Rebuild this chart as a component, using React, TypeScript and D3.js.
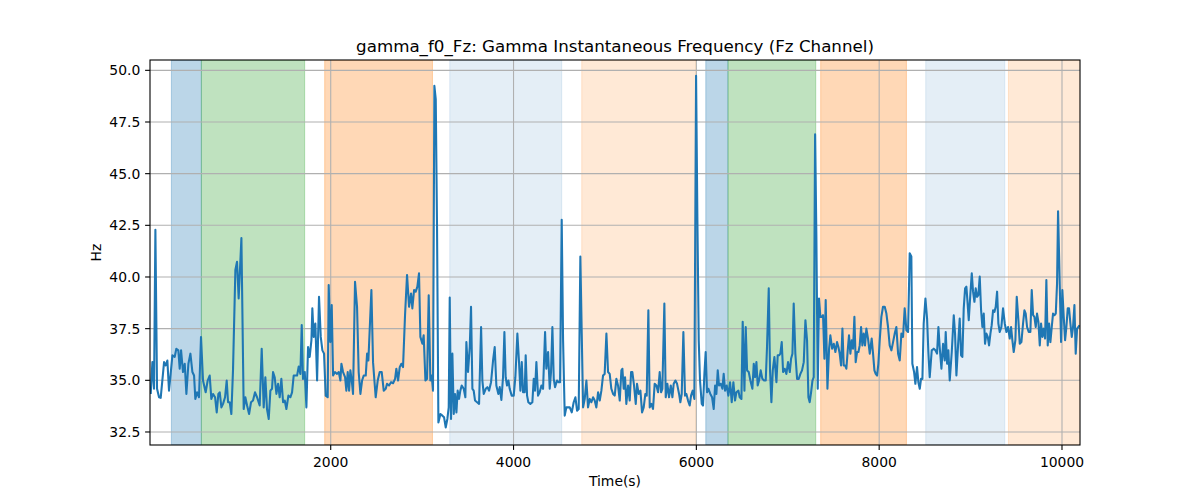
import { useMemo } from "react";
import * as d3 from "d3";

type Pt = [number, number];

// Fz gamma instantaneous frequency, [time (s), Hz]
const seg1: Pt[] = [
    [31, 34.34], [49, 35.88], [67, 34.59], [82, 42.28], [100, 34.59], [122, 34.18], [140, 34.15], [158, 34.99],
    [177, 35.88], [195, 35.72], [213, 35.96], [231, 34.5], [249, 35.31], [268, 36.21], [293, 36.13], [311, 36.53],
    [333, 36.45], [348, 35.56], [363, 36.45], [384, 35.4], [403, 35.8], [421, 34.34], [443, 35.8], [465, 36.29],
    [487, 35.4], [505, 35.23], [519, 34.1], [538, 34.42], [559, 34.18], [581, 37.1], [603, 34.99], [632, 34.42],
    [654, 34.99], [676, 35.23], [694, 34.1], [713, 34.34], [735, 34.18], [753, 33.45], [771, 34.34], [786, 34.42],
    [804, 33.69], [822, 33.86], [844, 34.18], [862, 34.99], [877, 33.94], [895, 33.94], [913, 33.37], [931, 35.48],
    [957, 40.34], [975, 40.74], [993, 38.96], [1023, 41.88], [1048, 33.61], [1066, 34.18], [1085, 33.78], [1107, 33.37],
    [1128, 33.94], [1150, 34.02], [1172, 34.42], [1194, 34.18], [1223, 33.78], [1245, 36.53], [1267, 33.69], [1285, 35.15],
    [1303, 33.61], [1322, 33.13], [1340, 34.5], [1358, 34.59], [1369, 35.4], [1387, 35.15], [1406, 34.34], [1424, 34.83],
    [1442, 34.18], [1460, 35.07], [1479, 33.94], [1497, 34.02], [1515, 33.61], [1537, 34.26], [1559, 34.18], [1577, 34.42],
    [1595, 35.23], [1613, 35.23], [1632, 35.23], [1650, 35.67], [1668, 35.31], [1683, 37.67], [1697, 35.07], [1716, 35.4],
    [1734, 33.69], [1752, 36.61], [1770, 36.13], [1789, 36.94], [1799, 38.48], [1814, 37.1], [1832, 37.75], [1851, 34.99],
    [1872, 39.04], [1891, 37.1], [1909, 36.45], [1927, 36.29], [1945, 34.26], [1967, 34.18], [1978, 39.61], [1996, 36.85],
    [2011, 38.64], [2026, 35.23], [2047, 35.4], [2069, 35.31], [2088, 35.4], [2106, 34.99], [2117, 35.8], [2135, 35.4],
    [2157, 35.15], [2171, 34.5], [2186, 35.4], [2201, 34.5], [2215, 35.48], [2230, 34.99], [2244, 34.34], [2266, 39.77],
    [2288, 38.56], [2306, 35.4], [2325, 34.34], [2343, 34.99], [2361, 35.23], [2383, 35.23], [2398, 36.29], [2412, 35.96],
];

const seg2: Pt[] = [
    [2445, 39.37], [2463, 35.88], [2478, 34.99], [2492, 34.18], [2514, 34.99], [2536, 35.4], [2558, 35.4], [2580, 34.5],
    [2602, 34.59], [2616, 34.83], [2638, 34.75], [2660, 34.91], [2682, 34.86], [2704, 35.07], [2718, 35.56], [2737, 34.99],
    [2755, 35.64], [2773, 35.8], [2791, 35.64], [2813, 38.15], [2835, 40.1], [2857, 38.56], [2879, 39.2], [2893, 38.48],
    [2912, 39.37], [2930, 39.29], [2948, 39.53], [2966, 40.18], [2981, 37.1], [3003, 36.77], [3017, 37.18], [3036, 34.99],
    [3054, 35.07], [3072, 39.12], [3090, 34.99], [3105, 35.23], [3119, 34.5], [3134, 49.25], [3149, 48.61], [3163, 42.45],
    [3178, 32.96], [3200, 33.37], [3222, 33.29], [3240, 33.21], [3258, 32.72], [3276, 33.13], [3291, 33.69], [3302, 39.01],
    [3316, 33.13], [3331, 36.29], [3346, 33.37], [3360, 34.34], [3375, 33.45], [3389, 34.5], [3404, 34.1], [3418, 34.5],
    [3433, 34.75], [3455, 34.59], [3473, 34.18], [3484, 36.85], [3502, 35.4], [3521, 36.61], [3535, 38.56], [3550, 34.59],
    [3564, 34.5], [3579, 34.02], [3601, 33.94], [3623, 33.86], [3645, 37.58], [3659, 34.99], [3674, 34.34], [3696, 34.59],
    [3714, 34.67], [3732, 34.5], [3754, 34.91], [3776, 35.96], [3794, 36.61], [3812, 34.75], [3834, 34.34], [3849, 34.67],
    [3867, 34.05], [3885, 35.15], [3900, 37.34], [3914, 35.15], [3929, 34.75], [3944, 34.99], [3958, 34.59], [3980, 34.26],
    [4002, 34.26], [4020, 35.15], [4042, 37.26], [4060, 35.88], [4075, 34.5], [4090, 35.88], [4104, 34.42], [4122, 34.42],
    [4133, 36.21], [4148, 34.26], [4162, 33.94], [4184, 33.86], [4206, 33.94], [4221, 35.07], [4235, 34.5], [4250, 35.88],
    [4268, 34.26], [4286, 34.42], [4305, 34.75], [4323, 34.59], [4345, 37.34], [4359, 35.56], [4378, 36.37], [4396, 34.59],
    [4410, 35.4], [4425, 37.58], [4440, 35.07], [4454, 34.67], [4476, 34.99], [4491, 34.91], [4509, 34.91], [4527, 42.77],
    [4542, 36.94], [4560, 33.29], [4578, 33.69], [4596, 33.69], [4615, 33.69], [4637, 33.45], [4658, 33.94], [4677, 34.18],
    [4695, 33.53], [4713, 33.61], [4731, 40.99], [4746, 37.26], [4761, 33.69], [4779, 34.1], [4797, 34.99], [4815, 33.69],
    [4834, 34.1], [4852, 33.94], [4870, 34.18], [4888, 34.02], [4906, 33.69], [4925, 34.42],
];

const seg3: Pt[] = [
    [4943, 34.02], [4961, 34.5], [4979, 35.23], [4997, 35.31], [5016, 37.26], [5034, 35.4], [5052, 35.31], [5070, 34.59],
    [5089, 34.34], [5107, 34.26], [5125, 35.07], [5143, 34.75], [5162, 34.02], [5180, 35.48], [5191, 35.56], [5205, 34.59],
    [5220, 35.15], [5234, 33.86], [5253, 34.75], [5271, 34.02], [5286, 35.4], [5300, 35.4], [5318, 34.75], [5337, 33.86],
    [5351, 34.83], [5369, 34.34], [5388, 34.5], [5406, 33.45], [5424, 33.69], [5442, 34.34], [5457, 34.26], [5475, 38.39],
    [5490, 33.69], [5508, 33.86], [5526, 33.61], [5544, 34.83], [5563, 34.75], [5581, 34.42], [5599, 35.4], [5614, 34.42],
    [5628, 34.59], [5650, 38.72], [5665, 34.18], [5683, 34.83], [5701, 34.18], [5720, 34.75], [5738, 34.18], [5752, 34.83],
    [5771, 34.99], [5789, 34.83], [5811, 34.34], [5825, 33.94], [5840, 34.34], [5858, 37.34], [5876, 34.26], [5891, 34.34],
    [5909, 34.02], [5927, 33.78], [5942, 34.26], [5960, 34.5], [5978, 34.1], [5997, 49.74], [6011, 42.93], [6026, 36.94],
    [6040, 34.99], [6059, 33.86], [6073, 33.78], [6088, 35.31], [6102, 36.37], [6117, 34.42], [6132, 34.59], [6153, 34.34],
    [6172, 34.18], [6190, 33.61], [6205, 34.75], [6219, 34.34], [6234, 35.48], [6248, 34.75], [6267, 34.83], [6285, 34.59],
    [6299, 35.31], [6314, 34.5], [6332, 34.75], [6350, 34.26], [6369, 34.91], [6387, 33.94], [6405, 34.91], [6423, 34.02],
    [6438, 34.42], [6460, 34.5], [6474, 34.18], [6493, 34.1], [6507, 37.83], [6526, 34.5], [6540, 37.58], [6555, 35.48],
    [6573, 35.4], [6591, 34.99], [6613, 34.59], [6628, 35.8], [6642, 35.15], [6657, 35.88], [6671, 34.75], [6686, 34.99],
    [6704, 35.48], [6722, 35.07], [6741, 34.99], [6759, 34.99], [6773, 36.61], [6792, 39.45], [6806, 35.48], [6821, 33.94],
    [6836, 35.48], [6854, 36.13], [6876, 34.91], [6890, 36.21], [6905, 36.21], [6919, 36.29], [6934, 36.85], [6949, 35.4],
    [6967, 35.56], [6985, 35.31], [7003, 35.88], [7022, 35.4], [7036, 36.04], [7051, 36.29], [7065, 38.72], [7083, 36.29],
    [7102, 35.07], [7120, 35.07], [7138, 35.31], [7156, 35.48], [7175, 35.88], [7193, 37.91], [7211, 36.94], [7226, 34.18],
    [7240, 33.94], [7255, 34.42], [7270, 34.99], [7284, 35.15], [7299, 46.9], [7313, 41.96], [7328, 34.59], [7342, 38.96],
    [7357, 38.07], [7372, 38.07], [7386, 38.15], [7401, 36.04], [7415, 38.88], [7434, 34.59], [7452, 36.53], [7466, 37.18],
    [7485, 36.53], [7503, 36.77], [7521, 36.37], [7539, 36.85], [7554, 36.61],
];

const seg4: Pt[] = [
    [7568, 36.29], [7583, 35.72], [7598, 37.5], [7612, 35.72], [7627, 35.72], [7641, 35.56], [7656, 36.45], [7670, 37.18],
    [7685, 36.29], [7700, 36.94], [7714, 36.53], [7729, 38.07], [7743, 35.88], [7758, 36.37], [7773, 36.37], [7787, 36.69],
    [7802, 37.58], [7816, 36.69], [7831, 37.26], [7845, 36.69], [7860, 37.5], [7878, 37.02], [7897, 36.29], [7918, 37.02],
    [7933, 36.29], [7948, 35.48], [7962, 35.31], [7977, 35.23], [7991, 35.8], [8006, 36.94], [8024, 38.07], [8042, 38.56],
    [8061, 38.56], [8079, 38.23], [8097, 37.58], [8115, 36.69], [8134, 36.45], [8152, 36.85], [8170, 37.26], [8188, 37.58],
    [8207, 36.29], [8225, 35.96], [8243, 37.26], [8261, 37.1], [8279, 38.48], [8298, 37.42], [8316, 37.34], [8334, 41.15],
    [8352, 40.99], [8363, 35.8], [8382, 35.4], [8396, 34.83], [8414, 35.64], [8429, 34.91], [8444, 34.59], [8458, 35.07],
    [8473, 35.07], [8487, 37.75], [8506, 38.96], [8524, 37.99], [8538, 36.37], [8553, 35.15], [8575, 36.45], [8597, 36.53],
    [8615, 36.45], [8633, 36.29], [8648, 37.58], [8662, 36.61], [8681, 35.56], [8699, 36.77], [8717, 35.96], [8728, 37.34],
    [8743, 35.8], [8757, 36.45], [8772, 34.99], [8794, 36.37], [8816, 38.15], [8830, 37.26], [8845, 35.23], [8863, 36.69],
    [8881, 37.99], [8896, 36.21], [8910, 36.13], [8925, 38.48], [8940, 39.45], [8954, 39.53], [8965, 38.88], [8980, 37.91],
    [8998, 39.2], [9013, 40.18], [9027, 39.29], [9042, 38.8], [9056, 39.45], [9071, 39.04], [9085, 39.12], [9100, 40.02],
    [9115, 38.39], [9129, 37.58], [9144, 38.23], [9158, 36.77], [9173, 37.26], [9188, 37.1], [9202, 36.69], [9217, 37.26],
    [9231, 37.67], [9246, 38.39], [9261, 38.31], [9275, 38.56], [9290, 39.29], [9304, 37.75], [9319, 37.34], [9337, 37.58],
    [9355, 38.48], [9374, 37.75], [9392, 37.34], [9410, 37.58], [9428, 37.02], [9443, 37.58], [9457, 36.94], [9472, 36.37],
    [9490, 36.94], [9505, 39.04], [9523, 37.91], [9538, 36.77], [9556, 36.85], [9574, 37.75], [9589, 38.39], [9603, 38.23],
    [9618, 37.58], [9636, 37.34], [9654, 37.34], [9669, 39.37], [9684, 38.15], [9698, 38.07], [9713, 37.58], [9727, 38.23],
    [9742, 37.83], [9757, 36.69], [9771, 37.75], [9786, 37.1], [9800, 37.5], [9815, 37.02], [9829, 39.85], [9844, 36.69],
    [9859, 37.75], [9873, 36.85], [9888, 37.58], [9902, 38.23], [9917, 38.15], [9932, 38.23], [9946, 39.69], [9957, 43.18],
    [9975, 39.69], [9990, 36.85], [10004, 39.37], [10019, 38.07], [10034, 36.94], [10048, 37.58], [10063, 38.48], [10077, 38.48],
    [10092, 37.75], [10107, 37.1], [10121, 37.58], [10136, 38.64], [10150, 36.29], [10165, 37.5], [10180, 37.58], [10191, 37.67],
];

// shaded phases (seconds)
const phaseStart = [257, 585, 1934, 3302, 4746, 6103, 6346, 7360, 8509, 9414];
const phaseEnd = [585, 1715, 3113, 4527, 5993, 6346, 7306, 8298, 9374, 10260];
const phaseKind = ["blue", "green", "orange", "paleBlue", "paleOrange", "blue", "green", "orange", "paleBlue", "paleOrange"];

const xTicks = [2000, 4000, 6000, 8000, 10000];
const yTicks = [32.5, 35, 37.5, 40, 42.5, 45, 47.5, 50];
const xLimits: [number, number] = [23, 10197];
const yLimits: [number, number] = [31.87, 50.5];

const WIDTH = 1200;
const HEIGHT = 500;
const LEFT = 150;
const RIGHT = 1080;
const TOP = 60;
const BOTTOM = 445;
const FONT = "'DejaVu Sans', sans-serif";

const phaseStyle: Record<string, { color: string; alpha: number }> = {
    blue: { color: "#1f77b4", alpha: 0.3 },
    green: { color: "#2ca02c", alpha: 0.3 },
    orange: { color: "#ff7f0e", alpha: 0.3 },
    paleBlue: { color: "#1f77b4", alpha: 0.12 },
    paleOrange: { color: "#ff7f0e", alpha: 0.17 },
};

const App = () => {
    const x = useMemo(() => d3.scaleLinear().domain(xLimits).range([LEFT, RIGHT]), []);
    const y = useMemo(() => d3.scaleLinear().domain(yLimits).range([BOTTOM, TOP]), []);

    const path = useMemo(() => {
        const data = [...seg1, ...seg2, ...seg3, ...seg4];
        const line = d3
            .line<Pt>()
            .x(d => x(d[0]))
            .y(d => y(d[1]));
        return line(data) ?? "";
    }, [x, y]);

    const fmtY = d3.format(".1f");

    return (
        <svg
            width={WIDTH}
            height={HEIGHT}
            style={{ position: "absolute", left: 0, top: 0, background: "#fff" }}
            fontFamily={FONT}
        >
            <defs>
                <clipPath id="plot-area">
                    <rect x={LEFT} y={TOP} width={RIGHT - LEFT} height={BOTTOM - TOP} />
                </clipPath>
            </defs>
            <rect x={0} y={0} width={WIDTH} height={HEIGHT} fill="#fff" />

            <g clipPath="url(#plot-area)">
                {phaseStart.map((s, i) => {
                    const st = phaseStyle[phaseKind[i]];
                    return (
                        <rect
                            key={i}
                            x={x(s)}
                            y={TOP}
                            width={x(phaseEnd[i]) - x(s)}
                            height={BOTTOM - TOP}
                            fill={st.color}
                            fillOpacity={st.alpha}
                            stroke={st.color}
                            strokeOpacity={st.alpha}
                            strokeWidth={1}
                        />
                    );
                })}

                {xTicks.map(t => (
                    <line key={`gx${t}`} x1={x(t)} x2={x(t)} y1={TOP} y2={BOTTOM} stroke="#b0b0b0" strokeWidth={1.1} />
                ))}
                {yTicks.map(t => (
                    <line key={`gy${t}`} x1={LEFT} x2={RIGHT} y1={y(t)} y2={y(t)} stroke="#b0b0b0" strokeWidth={1.1} />
                ))}

                <path d={path} fill="none" stroke="#1f77b4" strokeWidth={2.08} strokeLinejoin="round" />
            </g>

            <rect x={LEFT} y={TOP} width={RIGHT - LEFT} height={BOTTOM - TOP} fill="none" stroke="#000" strokeWidth={1.1} />

            {xTicks.map(t => (
                <g key={`tx${t}`}>
                    <line x1={x(t)} x2={x(t)} y1={BOTTOM} y2={BOTTOM + 4.9} stroke="#000" strokeWidth={1.1} />
                    <text x={x(t)} y={BOTTOM + 21.5} textAnchor="middle" fontSize={13.9} fill="#000">
                        {t}
                    </text>
                </g>
            ))}
            {yTicks.map(t => (
                <g key={`ty${t}`}>
                    <line x1={LEFT - 4.9} x2={LEFT} y1={y(t)} y2={y(t)} stroke="#000" strokeWidth={1.1} />
                    <text x={LEFT - 9.7} y={y(t)} dy="0.36em" textAnchor="end" fontSize={13.9} fill="#000">
                        {fmtY(t)}
                    </text>
                </g>
            ))}

            <text x={(LEFT + RIGHT) / 2} y={TOP - 8.3} textAnchor="middle" fontSize={16.7} fill="#000">
                gamma_f0_Fz: Gamma Instantaneous Frequency (Fz Channel)
            </text>
            <text x={(LEFT + RIGHT) / 2} y={486} textAnchor="middle" fontSize={13.9} fill="#000">
                Time(s)
            </text>
            <text
                transform={`translate(${101}, ${(TOP + BOTTOM) / 2}) rotate(-90)`}
                textAnchor="middle"
                fontSize={13.9}
                fill="#000"
            >
                Hz
            </text>
        </svg>
    );
};

export default App;
